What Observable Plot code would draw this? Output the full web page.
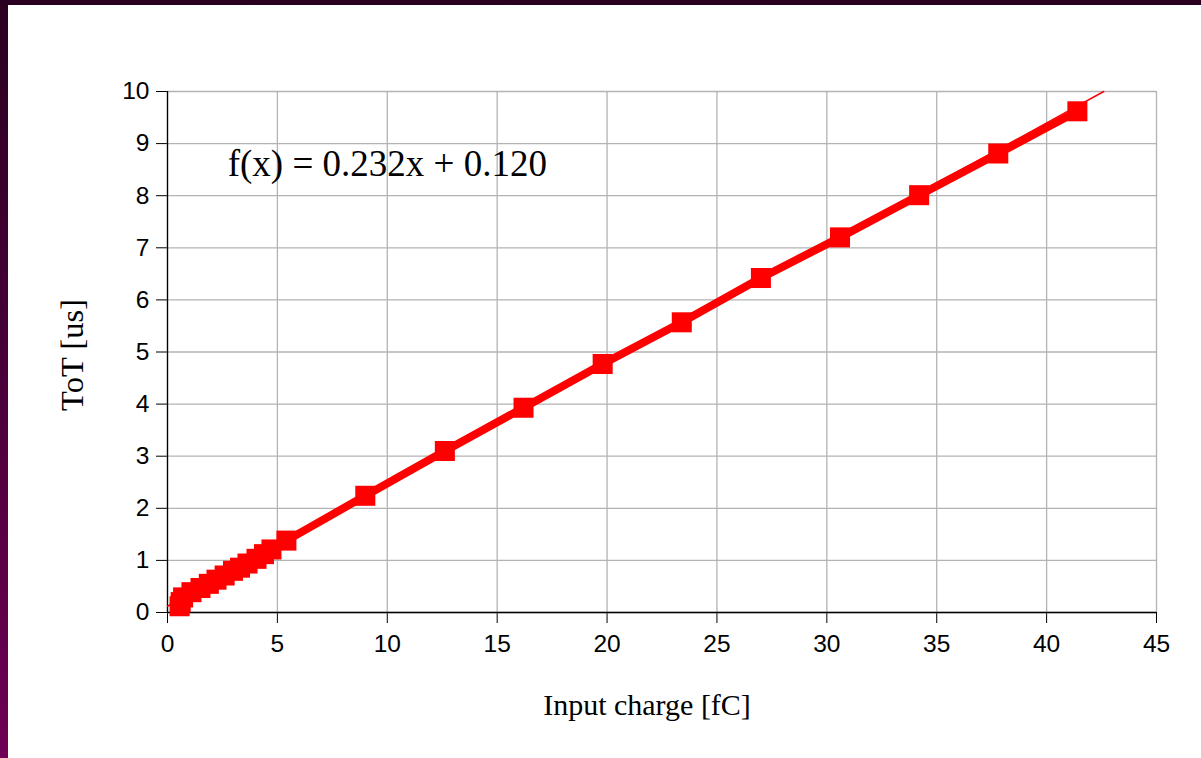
<!DOCTYPE html>
<html>
<head>
<meta charset="utf-8">
<script src="https://cdn.jsdelivr.net/npm/d3@7"></script>
<script src="https://cdn.jsdelivr.net/npm/@observablehq/plot@0.6"></script>
<style>
  html, body { margin: 0; padding: 0; }
  body {
    width: 1201px; height: 758px; overflow: hidden; position: relative;
    background: linear-gradient(to bottom, #2a0021 0%, #4a003a 50%, #6e0055 100%);
  }
  #chart { position: absolute; left: 8px; top: 5px; width: 1193px; height: 753px; background: #ffffff; }
  #chart svg { display: block; }
</style>
</head>
<body>
<div id="chart"></div>
<script>
// Measured points (input charge in fC, ToT in us)
const charge = [0.55, 0.6, 0.71, 1.09, 1.5, 1.88, 2.23, 2.6, 2.98, 3.3, 3.64, 4.05, 4.39, 4.73,
                5.41, 9.0, 12.62, 16.2, 19.8, 23.4, 27.0, 30.6, 34.2, 37.8, 41.4];
const tot    = [0.12, 0.2, 0.29, 0.39, 0.47, 0.55, 0.63, 0.71, 0.8, 0.86, 0.94, 1.03, 1.12, 1.21,
                1.38, 2.24, 3.1, 3.93, 4.77, 5.57, 6.42, 7.2, 8.01, 8.81, 9.62];

// Linear fit line endpoints (as drawn)
const fitX = [0, 42.6];
const fitY = [0.12, 10];
const fitLabel = ["f(x) = 0.232x + 0.120"];
const fitLabelX = 10;
const fitLabelY = 8.6;

// Axis ticks and titles
const xTicks = [0, 5, 10, 15, 20, 25, 30, 35, 40, 45];
const yTicks = [0, 1, 2, 3, 4, 5, 6, 7, 8, 9, 10];
const xTitle = ["Input charge [fC]"];
const yTitle = ["ToT [us]"];

const points = charge.map((c, i) => ({x: c, y: tot[i]}));
const fit = fitX.map((c, i) => ({x: c, y: fitY[i]}));

const red = "#ff0000";
const grid = "#b3b3b3";
const serif = "'Liberation Serif', 'Times New Roman', serif";

const chart = Plot.plot({
  width: 1193,
  height: 753,
  marginLeft: 159,
  marginRight: 45,
  marginTop: 86,
  marginBottom: 146,
  style: {fontFamily: "'Liberation Sans', Arial, sans-serif", fontSize: "24.5px", background: "white", color: "black", overflow: "visible"},
  x: {domain: [0, 45], ticks: xTicks, tickSize: 11, tickPadding: 11, tickFormat: d => String(d), label: null},
  y: {domain: [0, 10], ticks: yTicks, tickSize: 11, tickPadding: 7, tickFormat: d => String(d), label: null},
  marks: [
    Plot.ruleX(xTicks, {stroke: grid, strokeWidth: 1.3}),
    Plot.ruleY(yTicks, {stroke: grid, strokeWidth: 1.3}),
    Plot.ruleX([0], {stroke: "black", strokeWidth: 1.3}),
    Plot.ruleY([0], {stroke: "black", strokeWidth: 1.3}),
    Plot.line(fit, {x: "x", y: "y", stroke: red, strokeWidth: 1.5}),
    Plot.line(points, {x: "x", y: "y", stroke: red, strokeWidth: 8, strokeLinejoin: "round"}),
    Plot.dot(points, {x: "x", y: "y", symbol: "square", r: 11.3, fill: red, stroke: "none"}),
    Plot.text(fitLabel, {
      x: () => fitLabelX, y: () => fitLabelY, text: d => d,
      fontFamily: serif, fontSize: 37, ariaLabel: "fit-label",
      fill: "black", textAnchor: "middle", lineAnchor: "middle"
    }),
    Plot.text(xTitle, {
      frameAnchor: "bottom", text: d => d, dx: -15, dy: 93,
      fontFamily: serif, fontSize: 30,
      fill: "black", textAnchor: "middle", lineAnchor: "middle"
    }),
    Plot.text(yTitle, {
      frameAnchor: "left", text: d => d, dx: -95, dy: 3, rotate: -90,
      fontFamily: serif, fontSize: 32.5,
      fill: "black", textAnchor: "middle", lineAnchor: "middle"
    })
  ]
});
document.getElementById("chart").appendChild(chart);

// White box behind the fit equation, sized from the rendered text
const labelG = chart.querySelector('g[aria-label="fit-label"]');
if (labelG) {
  const t = labelG.querySelector("text");
  const bb = t.getBBox();
  const m = t.getCTM();
  const gm = chart.getCTM ? null : null;
  // compute bbox in svg coordinates
  const svgRect = chart.getBoundingClientRect();
  const tr = t.getBoundingClientRect();
  const cx = tr.left - svgRect.left, cy = (tr.top + tr.bottom) / 2 - svgRect.top;
  const rect = document.createElementNS("http://www.w3.org/2000/svg", "rect");
  rect.setAttribute("x", cx - 18);
  rect.setAttribute("width", tr.width + 32);
  rect.setAttribute("y", cy - 32);
  rect.setAttribute("height", 63);
  rect.setAttribute("fill", "white");
  labelG.parentNode.insertBefore(rect, labelG);
}
</script>
</body>
</html>
